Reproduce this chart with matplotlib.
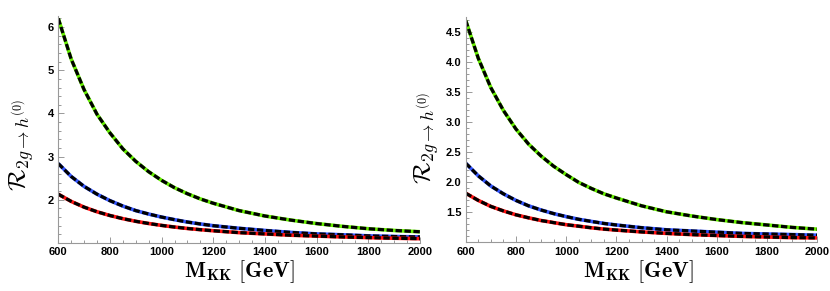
import matplotlib
matplotlib.use("Agg")
import matplotlib.pyplot as plt
from matplotlib.ticker import MultipleLocator

plt.rcParams['mathtext.fontset'] = 'cm'
plt.rcParams['font.family'] = ['Liberation Sans', 'DejaVu Sans']

# M_KK values (GeV)
m_kk = [600, 650, 700, 750, 800, 850, 900, 950, 1000, 1050, 1100, 1150,
        1200, 1300, 1400, 1500, 1600, 1700, 1800, 1900, 2000]

# left panel
left_green = [6.20, 5.26, 4.55, 3.98, 3.55, 3.18, 2.89, 2.65, 2.45, 2.28, 2.14, 2.02,
              1.92, 1.75, 1.625, 1.53, 1.45, 1.385, 1.33, 1.29, 1.26]
left_blue = [2.84, 2.54, 2.31, 2.13, 1.98, 1.855, 1.75, 1.67, 1.60, 1.54, 1.485, 1.44,
             1.40, 1.34, 1.29, 1.245, 1.21, 1.19, 1.165, 1.15, 1.14]
left_red = [2.13, 1.963, 1.83, 1.723, 1.636, 1.563, 1.502, 1.451, 1.407, 1.369, 1.336, 1.308,
            1.283, 1.24, 1.21, 1.18, 1.16, 1.14, 1.125, 1.11, 1.10]

# right panel
right_green = [4.70, 4.07, 3.58, 3.20, 2.89, 2.64, 2.44, 2.27, 2.13, 2.00, 1.90, 1.81,
               1.74, 1.61, 1.51, 1.44, 1.38, 1.33, 1.29, 1.25, 1.22]
right_blue = [2.32, 2.11, 1.94, 1.81, 1.70, 1.61, 1.54, 1.48, 1.43, 1.385, 1.35, 1.316,
              1.29, 1.245, 1.21, 1.19, 1.17, 1.15, 1.14, 1.13, 1.12]
right_red = [1.82, 1.70, 1.60, 1.525, 1.46, 1.41, 1.365, 1.33, 1.295, 1.27, 1.244, 1.222,
             1.205, 1.175, 1.15, 1.13, 1.115, 1.10, 1.09, 1.08, 1.075]

colors = ['#66ee00', '#3355ff', '#ff1111']
axis_gray = '#999999'

fig = plt.figure(figsize=(8.3, 2.91), dpi=100)
ax1 = fig.add_axes([0.0702, 0.165, 0.4358, 0.779])
ax2 = fig.add_axes([0.5611, 0.167, 0.4237, 0.773])

ylab = r'$\mathcal{R}_{2g\rightarrow h^{(0)}}$'
xlab = r'$\mathbf{M}_{\mathbf{KK}}\ \mathbf{[GeV]}$'

panels = [
    (ax1, [left_green, left_blue, left_red], (1.0, 6.25), 0.2,
     [2, 3, 4, 5, 6], ['2', '3', '4', '5', '6'], (0.026, 0.50), (0.288, 0.066)),
    (ax2, [right_green, right_blue, right_red], (1.0, 4.75), 0.1,
     [1.5, 2.0, 2.5, 3.0, 3.5, 4.0, 4.5], ['1.5', '2.0', '2.5', '3.0', '3.5', '4.0', '4.5'],
     (0.514, 0.525), (0.769, 0.066)),
]

for ax, series, ylim, yminor, yt, ytl, ypos, xpos in panels:
    for vals, c in zip(series, colors):
        ax.plot(m_kk, vals, color=c, lw=2.6, solid_capstyle='butt')
        ax.plot(m_kk, vals, color='black', lw=2.3, dashes=(2.0, 0.8))
    ax.set_xlim(600, 2000)
    ax.set_ylim(*ylim)
    ax.xaxis.set_major_locator(MultipleLocator(200))
    ax.xaxis.set_minor_locator(MultipleLocator(50))
    ax.set_yticks(yt)
    ax.set_yticklabels(ytl)
    ax.yaxis.set_minor_locator(MultipleLocator(yminor))
    for s in ['top', 'right']:
        ax.spines[s].set_visible(False)
    for s in ['left', 'bottom']:
        ax.spines[s].set_color(axis_gray)
        ax.spines[s].set_linewidth(0.8)
    ax.tick_params(which='both', direction='in', color=axis_gray, width=0.7)
    ax.tick_params(which='major', length=4, labelsize=8, pad=3)
    ax.tick_params(which='minor', length=2)
    for lab in ax.get_xticklabels() + ax.get_yticklabels():
        lab.set_fontweight('bold')
    fig.text(ypos[0], ypos[1], ylab, fontsize=18, rotation=90,
             ha='center', va='center')
    fig.text(xpos[0], xpos[1], xlab, fontsize=16, ha='center', va='center')

fig.savefig('out.png', dpi=100)
